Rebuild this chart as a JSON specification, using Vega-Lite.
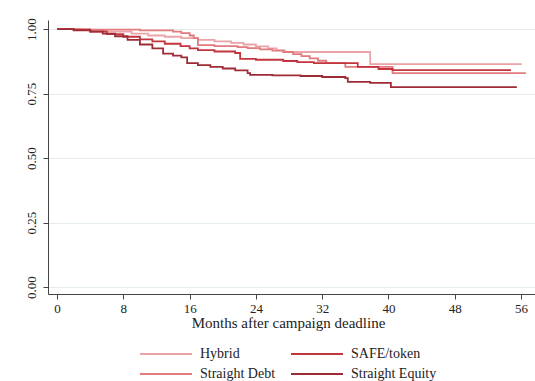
{
  "$schema": "https://vega.github.io/schema/vega-lite/v6.json",
  "width": 487,
  "height": 274,
  "autosize": {"type": "none"},
  "padding": {"left": 48, "top": 20, "right": 0, "bottom": 87},
  "background": "white",
  "config": {
    "view": {"stroke": null},
    "font": "Liberation Serif",
    "axis": {"labelFont": "Liberation Serif", "titleFont": "Liberation Serif", "labelColor": "#222", "titleColor": "#222", "domainColor": "#444", "tickColor": "#444"}
  },
  "data": {
    "values": [
      {"g": "Hybrid", "t": 0, "s": 1.0},
      {"g": "Hybrid", "t": 3, "s": 0.996},
      {"g": "Hybrid", "t": 6, "s": 0.99},
      {"g": "Hybrid", "t": 9, "s": 0.982},
      {"g": "Hybrid", "t": 11, "s": 0.975},
      {"g": "Hybrid", "t": 13, "s": 0.97},
      {"g": "Hybrid", "t": 15, "s": 0.965},
      {"g": "Hybrid", "t": 17, "s": 0.958},
      {"g": "Hybrid", "t": 19, "s": 0.952},
      {"g": "Hybrid", "t": 21, "s": 0.946},
      {"g": "Hybrid", "t": 22.5, "s": 0.94},
      {"g": "Hybrid", "t": 24, "s": 0.933},
      {"g": "Hybrid", "t": 25.5, "s": 0.925},
      {"g": "Hybrid", "t": 26.5, "s": 0.917},
      {"g": "Hybrid", "t": 27.5, "s": 0.911},
      {"g": "Hybrid", "t": 37.8, "s": 0.864},
      {"g": "Hybrid", "t": 56.1, "s": 0.864},

      {"g": "Straight Debt", "t": 0, "s": 1.0},
      {"g": "Straight Debt", "t": 4, "s": 0.998},
      {"g": "Straight Debt", "t": 10, "s": 0.995},
      {"g": "Straight Debt", "t": 14, "s": 0.99},
      {"g": "Straight Debt", "t": 15, "s": 0.984},
      {"g": "Straight Debt", "t": 16, "s": 0.975},
      {"g": "Straight Debt", "t": 16.5, "s": 0.965},
      {"g": "Straight Debt", "t": 17, "s": 0.938},
      {"g": "Straight Debt", "t": 19, "s": 0.934},
      {"g": "Straight Debt", "t": 21.8, "s": 0.93},
      {"g": "Straight Debt", "t": 23, "s": 0.926},
      {"g": "Straight Debt", "t": 24.5, "s": 0.921},
      {"g": "Straight Debt", "t": 26, "s": 0.916},
      {"g": "Straight Debt", "t": 27.3, "s": 0.911},
      {"g": "Straight Debt", "t": 28.5, "s": 0.903},
      {"g": "Straight Debt", "t": 29.5, "s": 0.895},
      {"g": "Straight Debt", "t": 30.5, "s": 0.886},
      {"g": "Straight Debt", "t": 31.5, "s": 0.877},
      {"g": "Straight Debt", "t": 32.5, "s": 0.868},
      {"g": "Straight Debt", "t": 34.8, "s": 0.853},
      {"g": "Straight Debt", "t": 40.5, "s": 0.829},
      {"g": "Straight Debt", "t": 56.6, "s": 0.829},

      {"g": "SAFE/token", "t": 0, "s": 1.0},
      {"g": "SAFE/token", "t": 2, "s": 0.997},
      {"g": "SAFE/token", "t": 4, "s": 0.99},
      {"g": "SAFE/token", "t": 6, "s": 0.98},
      {"g": "SAFE/token", "t": 8, "s": 0.97},
      {"g": "SAFE/token", "t": 10, "s": 0.96},
      {"g": "SAFE/token", "t": 11.5, "s": 0.952},
      {"g": "SAFE/token", "t": 13, "s": 0.943},
      {"g": "SAFE/token", "t": 14.9, "s": 0.934},
      {"g": "SAFE/token", "t": 16, "s": 0.925},
      {"g": "SAFE/token", "t": 17, "s": 0.918},
      {"g": "SAFE/token", "t": 19, "s": 0.913},
      {"g": "SAFE/token", "t": 21.5, "s": 0.907},
      {"g": "SAFE/token", "t": 22.1, "s": 0.884},
      {"g": "SAFE/token", "t": 24, "s": 0.881},
      {"g": "SAFE/token", "t": 27.3, "s": 0.876},
      {"g": "SAFE/token", "t": 29, "s": 0.872},
      {"g": "SAFE/token", "t": 31, "s": 0.868},
      {"g": "SAFE/token", "t": 36.3, "s": 0.853},
      {"g": "SAFE/token", "t": 38.8, "s": 0.845},
      {"g": "SAFE/token", "t": 40.5, "s": 0.841},
      {"g": "SAFE/token", "t": 54.8, "s": 0.841},

      {"g": "Straight Equity", "t": 0, "s": 1.0},
      {"g": "Straight Equity", "t": 2, "s": 0.995},
      {"g": "Straight Equity", "t": 4, "s": 0.99},
      {"g": "Straight Equity", "t": 5.5, "s": 0.982},
      {"g": "Straight Equity", "t": 7, "s": 0.972},
      {"g": "Straight Equity", "t": 8.5, "s": 0.958},
      {"g": "Straight Equity", "t": 10, "s": 0.94},
      {"g": "Straight Equity", "t": 11.5, "s": 0.925},
      {"g": "Straight Equity", "t": 12.8, "s": 0.905},
      {"g": "Straight Equity", "t": 14, "s": 0.897},
      {"g": "Straight Equity", "t": 15, "s": 0.89},
      {"g": "Straight Equity", "t": 15.7, "s": 0.868},
      {"g": "Straight Equity", "t": 17, "s": 0.86},
      {"g": "Straight Equity", "t": 18.5, "s": 0.853},
      {"g": "Straight Equity", "t": 20, "s": 0.847},
      {"g": "Straight Equity", "t": 21.5, "s": 0.84},
      {"g": "Straight Equity", "t": 23, "s": 0.829},
      {"g": "Straight Equity", "t": 23.3, "s": 0.822},
      {"g": "Straight Equity", "t": 26, "s": 0.82},
      {"g": "Straight Equity", "t": 29.4, "s": 0.818},
      {"g": "Straight Equity", "t": 32, "s": 0.814},
      {"g": "Straight Equity", "t": 34.8, "s": 0.81},
      {"g": "Straight Equity", "t": 35.1, "s": 0.795},
      {"g": "Straight Equity", "t": 37.8, "s": 0.791},
      {"g": "Straight Equity", "t": 40.3, "s": 0.775},
      {"g": "Straight Equity", "t": 55.4, "s": 0.771}
    ]
  },
  "mark": {"type": "line", "interpolate": "step-after", "strokeWidth": 1.8},
  "encoding": {
    "x": {
      "field": "t", "type": "quantitative",
      "scale": {"domain": [-1.1, 57.7], "nice": false, "zero": false},
      "axis": {"values": [0, 8, 16, 24, 32, 40, 48, 56], "title": "Months after campaign deadline", "titleFontSize": 15, "titleFontWeight": "normal", "titlePadding": 0, "titleX": 240, "labelFontSize": 13, "labelPadding": 3, "tickSize": 5, "grid": false, "labelFlush": false, "labelOverlap": false}
    },
    "y": {
      "field": "s", "type": "quantitative",
      "scale": {"domain": [-0.027, 1.035], "nice": false, "zero": false},
      "axis": {"values": [0, 0.25, 0.5, 0.75, 1], "format": ".2f", "title": null, "labelFontSize": 13, "labelAngle": 270, "labelAlign": "center", "labelBaseline": "bottom", "labelPadding": 5, "tickSize": 5, "grid": true, "gridColor": "#e4ecee", "gridWidth": 1, "labelFlush": false}
    },
    "color": {
      "field": "g", "type": "nominal",
      "scale": {"domain": ["Hybrid", "SAFE/token", "Straight Debt", "Straight Equity"], "range": ["#eaa3a7", "#c2353d", "#e27a7e", "#9d2c37"]},
      "legend": {"title": null, "orient": "none", "legendX": 111, "legendY": 327, "columns": 2, "direction": "horizontal", "symbolType": "M-13,0H13", "symbolSize": 16, "symbolStrokeWidth": 2, "labelFontSize": 14, "labelFont": "Liberation Serif", "labelColor": "#222", "labelOffset": 27, "columnPadding": 11, "rowPadding": 6, "padding": 0}
    }
  }
}
